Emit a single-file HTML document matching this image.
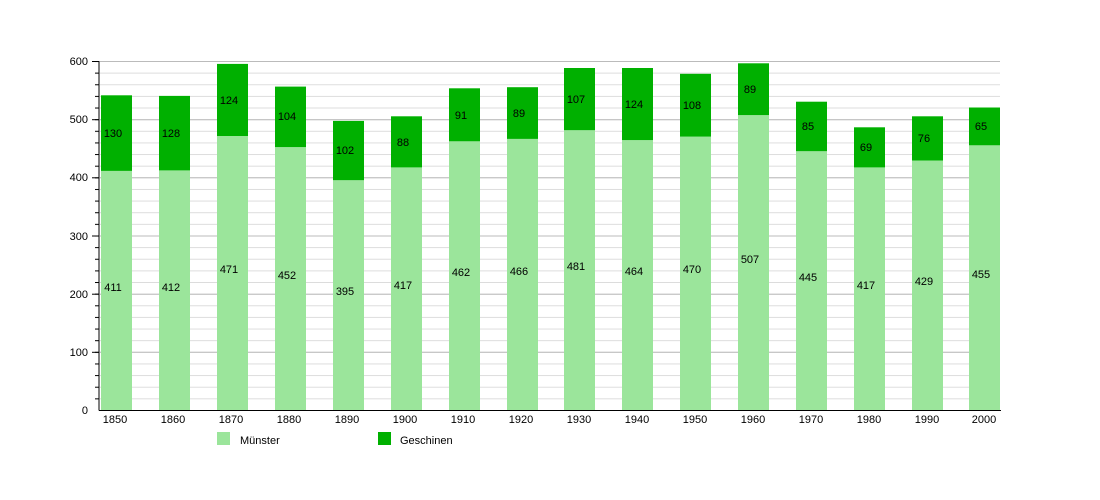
<!DOCTYPE html>
<html><head><meta charset="utf-8"><style>body{margin:0;background:#fff}svg{display:block}text{font-family:"Liberation Sans",Arial,sans-serif;font-size:11px;fill:#000}</style></head>
<body>
<svg width="1100" height="500" viewBox="0 0 1100 500">
<defs>
<pattern id="g" x="0" y="61" width="1000" height="11.633" patternUnits="userSpaceOnUse">
<line x1="0" y1="0.5" x2="1000" y2="0.5" stroke="#dcdcdc" stroke-width="1"/>
</pattern>
<pattern id="t" x="0" y="61" width="10" height="11.633" patternUnits="userSpaceOnUse">
<line x1="0" y1="0.5" x2="10" y2="0.5" stroke="#000" stroke-width="1"/>
</pattern>
</defs>
<rect x="100" y="61" width="900" height="349" fill="url(#g)"/>
<line x1="100" y1="61.5" x2="1000" y2="61.5" stroke="#bbb"/>
<line x1="100" y1="119.7" x2="1000" y2="119.7" stroke="#bbb"/>
<line x1="100" y1="177.8" x2="1000" y2="177.8" stroke="#bbb"/>
<line x1="100" y1="236" x2="1000" y2="236" stroke="#bbb"/>
<line x1="100" y1="294.2" x2="1000" y2="294.2" stroke="#bbb"/>
<line x1="100" y1="352.3" x2="1000" y2="352.3" stroke="#bbb"/>
<rect x="95" y="61" width="4" height="349" fill="url(#t)"/>
<g stroke="#000">
<line x1="92" y1="61.5" x2="99" y2="61.5"/><line x1="92" y1="119.7" x2="99" y2="119.7"/><line x1="92" y1="177.8" x2="99" y2="177.8"/><line x1="92" y1="236" x2="99" y2="236"/><line x1="92" y1="294.2" x2="99" y2="294.2"/><line x1="92" y1="352.3" x2="99" y2="352.3"/>
</g>
<g text-anchor="end">
<text x="88" y="65">600</text><text x="88" y="123">500</text><text x="88" y="181">400</text><text x="88" y="240">300</text><text x="88" y="298">200</text><text x="88" y="356">100</text><text x="88" y="414">0</text>
</g>
<g fill="#9be59b">
<rect x="101" y="170.9" width="31" height="239.1"/>
<rect x="159" y="170.4" width="31" height="239.6"/>
<rect x="217" y="136" width="31" height="274"/>
<rect x="275" y="147.1" width="31" height="262.9"/>
<rect x="333" y="180.2" width="31" height="229.8"/>
<rect x="391" y="167.4" width="31" height="242.6"/>
<rect x="449" y="141.3" width="31" height="268.7"/>
<rect x="507" y="138.9" width="31" height="271.1"/>
<rect x="564" y="130.2" width="31" height="279.8"/>
<rect x="622" y="140.1" width="31" height="269.9"/>
<rect x="680" y="136.6" width="31" height="273.4"/>
<rect x="738" y="115.1" width="31" height="294.9"/>
<rect x="796" y="151.2" width="31" height="258.8"/>
<rect x="854" y="167.4" width="31" height="242.6"/>
<rect x="912" y="160.5" width="31" height="249.5"/>
<rect x="969" y="145.3" width="31" height="264.7"/>
</g>
<g fill="#00b000">
<rect x="101" y="95.3" width="31" height="75.6"/>
<rect x="159" y="95.9" width="31" height="74.5"/>
<rect x="217" y="63.9" width="31" height="72.1"/>
<rect x="275" y="86.6" width="31" height="60.5"/>
<rect x="333" y="120.9" width="31" height="59.3"/>
<rect x="391" y="116.3" width="31" height="51.1"/>
<rect x="449" y="88.3" width="31" height="53"/>
<rect x="507" y="87.2" width="31" height="51.7"/>
<rect x="564" y="68" width="31" height="62.2"/>
<rect x="622" y="68" width="31" height="72.1"/>
<rect x="680" y="73.8" width="31" height="62.8"/>
<rect x="738" y="63.3" width="31" height="51.8"/>
<rect x="796" y="101.7" width="31" height="49.5"/>
<rect x="854" y="127.3" width="31" height="40.1"/>
<rect x="912" y="116.3" width="31" height="44.2"/>
<rect x="969" y="107.5" width="31" height="37.8"/>
</g>
<line x1="99" y1="61" x2="99" y2="410.5" stroke="#000"/>
<line x1="99" y1="410.5" x2="1001" y2="410.5" stroke="#000"/>
<g text-anchor="middle">
<text x="113" y="291">411</text><text x="113" y="137">130</text>
<text x="171" y="291">412</text><text x="171" y="137">128</text>
<text x="229" y="273">471</text><text x="229" y="104">124</text>
<text x="287" y="279">452</text><text x="287" y="120">104</text>
<text x="345" y="295">395</text><text x="345" y="154">102</text>
<text x="403" y="289">417</text><text x="403" y="146">88</text>
<text x="461" y="276">462</text><text x="461" y="119">91</text>
<text x="519" y="275">466</text><text x="519" y="117">89</text>
<text x="576" y="270">481</text><text x="576" y="103">107</text>
<text x="634" y="275">464</text><text x="634" y="108">124</text>
<text x="692" y="273">470</text><text x="692" y="109">108</text>
<text x="750" y="263">507</text><text x="750" y="93">89</text>
<text x="808" y="281">445</text><text x="808" y="130">85</text>
<text x="866" y="289">417</text><text x="866" y="151">69</text>
<text x="924" y="285">429</text><text x="924" y="142">76</text>
<text x="981" y="278">455</text><text x="981" y="130">65</text>
</g>
<g text-anchor="middle">
<text x="115" y="423">1850</text><text x="173" y="423">1860</text><text x="231" y="423">1870</text><text x="289" y="423">1880</text>
<text x="347" y="423">1890</text><text x="405" y="423">1900</text><text x="463" y="423">1910</text><text x="521" y="423">1920</text>
<text x="579" y="423">1930</text><text x="637" y="423">1940</text><text x="695" y="423">1950</text><text x="753" y="423">1960</text>
<text x="811" y="423">1970</text><text x="869" y="423">1980</text><text x="927" y="423">1990</text><text x="984" y="423">2000</text>
</g>
<rect x="217" y="432" width="13" height="13" fill="#9be59b"/>
<text x="240" y="444">Münster</text>
<rect x="378" y="432" width="13" height="13" fill="#00b000"/>
<text x="400" y="444">Geschinen</text>
</svg>
</body></html>
